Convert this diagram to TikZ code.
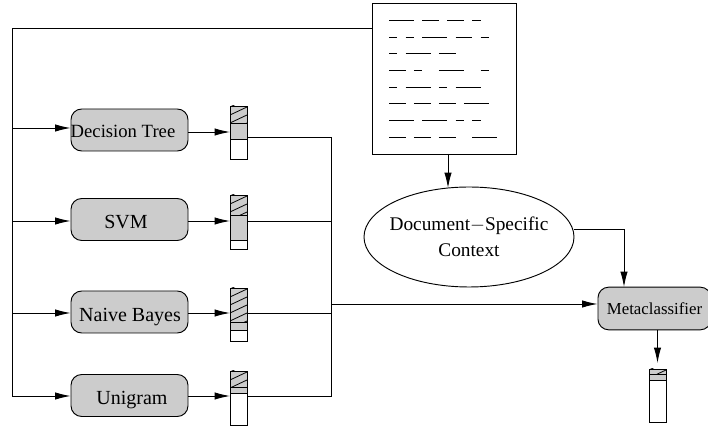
\documentclass[tikz,border=0pt]{standalone}
\usepackage{fontspec}
\setmainfont{Liberation Serif}
\usetikzlibrary{arrows.meta,shapes.geometric}
\definecolor{boxgray}{gray}{0.8}
\tikzset{
  model/.style={draw,line width=.7pt,rounded corners=8,fill=boxgray,minimum width=87.75pt,minimum height=31.5pt,inner sep=0pt,text height=0pt,text depth=0pt,font=\fontsize{15}{16}\selectfont},
  arr/.style={-{Latex[length=11.5pt,width=5.5pt]},line width=.7pt},
  wire/.style={line width=.7pt},
  cell/.style={draw,line width=.7pt,minimum width=12.75pt,inner sep=0pt,anchor=north west}
}
% label of a box, moved off its centre as in the drawing
\newcommand{\boxtext}[3]{\hspace*{#1}\raisebox{#2}{#3}}
% one output vector: x, top, hatch end, gray end, bottom, name
\newcommand{\probvec}[6]{%
  \node[cell,fill=boxgray,minimum height=(#3-#2)*.75pt] (#6h) at (#1,#2) {};
  \begin{scope}
    \clip (#6h.south west) rectangle (#6h.north east);
    \foreach \k in {0,...,5}
      \draw[line width=.6pt] (#1,#2+8*\k+1) -- (#1+17,#2+8*\k-7);
  \end{scope}
  \node[cell,fill=boxgray,minimum height=(#4-#3)*.75pt] (#6g) at (#1,#3) {};
  \node[cell,fill=white,minimum height=(#5-#4)*.75pt] (#6w) at (#1,#4) {};
}
\begin{document}
\begin{tikzpicture}[x=.75pt,y=-.75pt]
  \useasboundingbox (0,0) rectangle (708,427);
  % classifiers
  \node[model,font=\fontsize{14}{16}\selectfont] (dtree) at (129.5,130) {\boxtext{-9.75pt}{-5.4pt}{Decision Tree}};
  \node[model] (svm) at (129.5,219.5) {\boxtext{-5.25pt}{-6.75pt}{SVM}};
  \node[model] (bayes) at (129.5,312) {\boxtext{.75pt}{-7.2pt}{Naive Bayes}};
  \node[model] (uni) at (129.5,395.5) {\boxtext{3.75pt}{-6.75pt}{Unigram}};
  \node[model,minimum width=84.75pt,minimum height=32pt,font=\fontsize{12.6}{16}\selectfont] (meta) at (654.5,308.5) {\boxtext{0pt}{-4.2pt}{Metaclassifier}};
  % output vectors
  \probvec{230}{106}{123}{139}{159}{dt}
  \probvec{230}{195}{215}{240}{249}{sv}
  \probvec{230}{288}{322}{330}{341}{nb}
  \probvec{230}{371}{387}{393}{425}{un}
  \probvec{649}{369}{374}{380}{422}{mc}
  % document
  \node[draw,line width=.7pt,minimum width=108pt,minimum height=113.25pt,inner sep=0pt] (doc) at (444,78.5) {};
  \foreach \row/\segs in {20/{0/3,4/6,7/9,10/11},37/{0/1,2/3,4/7,8/10,11/12},53/{0/1,2/5,6/8},
      70/{0/2,3/4,6/9,11/12},87/{0/1,2/5,6/7,8/11},103/{0/2,3/5,6/8,9/12},
      120/{0/3,4/7,8/9,10/11},137/{0/2,3/5,6/8,10/13}}
    \foreach \a/\b in \segs
      \draw[wire] (389+\a*8.33,\row) -- (389+\b*8.33,\row);
  \node[draw,ellipse,line width=.7pt,minimum width=157.5pt,minimum height=75pt,inner sep=0pt] (ctx) at (469,237) {};
  \node[align=center,inner sep=0pt,font=\fontsize{14.5}{19.5}\selectfont] (ctxtext) at (ctx.center) {Document$-$Specific\\Context};
  % wiring
  \coordinate (top) at (12,28.5);
  \coordinate (dtin) at (12,128);
  \coordinate (svin) at (12,221);
  \coordinate (nbin) at (12,313);
  \coordinate (unin) at (12,396);
  \coordinate (dtmid) at (12,132);
  \coordinate (dtout) at (331,137);
  \coordinate (svout) at (331,221);
  \coordinate (nbout) at (331,313);
  \coordinate (unout) at (331,396);
  \coordinate (mid) at (331,304);
  \coordinate (docout) at (448,154);
  \coordinate (ctxin) at (448,188);
  \coordinate (ctxout) at (574,229);
  \coordinate (metain) at (624,287);
  \coordinate (metaout) at (657.5,330);
  \coordinate (mcin) at (657.5,363);
  \draw[wire] (doc.west |- top) -- (top) -- (unin);
  \draw[arr] (dtin) -- (dtin -| dtree.west);
  \draw[arr] (svin) -- (svin -| svm.west);
  \draw[arr] (nbin) -- (nbin -| bayes.west);
  \draw[arr] (unin) -- (unin -| uni.west);
  \draw[arr] (dtmid -| dtree.east) -- (dtmid -| dtg.west);
  \draw[arr] (svin -| svm.east) -- (svin -| svg.west);
  \draw[arr] (nbin -| bayes.east) -- (nbin -| nbh.west);
  \draw[arr] (unin -| uni.east) -- (unin -| ung.west);
  \draw[wire] (dtout -| dtg.east) -- (dtout) -- (unout) -- (unout -| ung.east);
  \draw[wire] (svout -| svg.east) -- (svout);
  \draw[wire] (nbout -| nbh.east) -- (nbout);
  \draw[arr] (mid) -- (mid -| meta.west);
  \draw[arr] (docout) -- (ctxin);
  \draw[arr] (ctxout) -| (metain);
  \draw[arr] (metaout) -- (mcin);
\end{tikzpicture}
\end{document}
